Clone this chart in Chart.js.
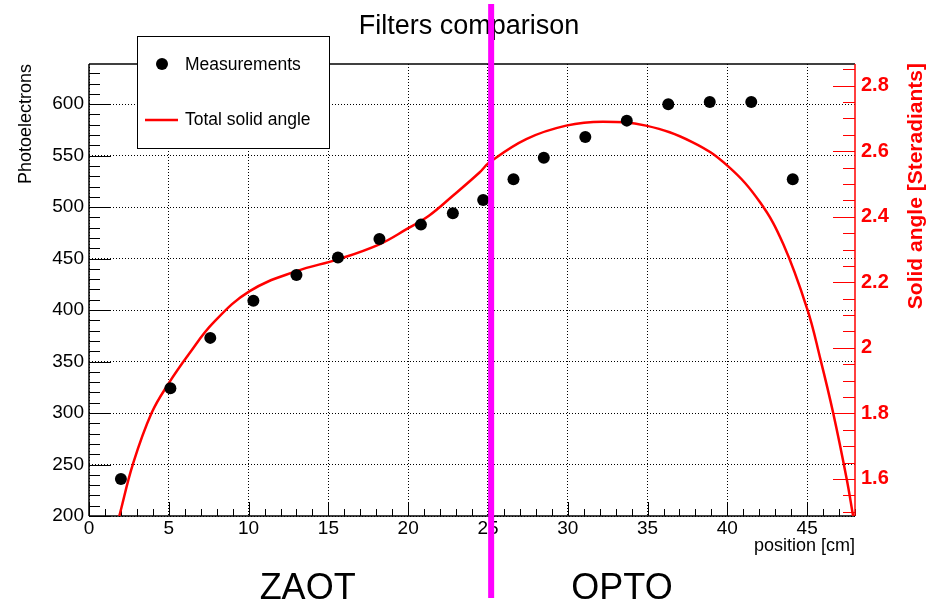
<!DOCTYPE html>
<html><head><meta charset="utf-8">
<script src="https://cdn.jsdelivr.net/npm/chart.js@4/dist/chart.umd.min.js"></script>
<style>html,body{margin:0;padding:0;background:#fff;}canvas{display:block;}</style>
</head><body>
<canvas id="c" width="938" height="604"></canvas>
<script>
// ---- data ----
const positions = [2.0, 5.1, 7.6, 10.3, 13.0, 15.6, 18.2, 20.8, 22.8, 24.7, 26.6, 28.5, 31.1, 33.7, 36.3, 38.9, 41.5, 44.1];
const photoelectrons = [236, 324, 373, 409, 434, 451, 469, 483, 494, 507, 527, 548, 568, 584, 600, 602, 602, 527];
const curvePositions = [1.9, 2.77, 3.92, 4.97, 6.32, 7.78, 10.07, 13.0, 15.6, 18.2, 19.9, 21.3, 22.8, 24.47, 25.1, 27.4, 29.9, 32.2, 34.9, 37.8, 40.02, 42.05, 43.51, 45.01, 45.81, 46.64, 47.48, 47.88];
const solidAngle = [1.487, 1.648, 1.801, 1.890, 1.985, 2.076, 2.173, 2.234, 2.270, 2.316, 2.362, 2.403, 2.464, 2.535, 2.566, 2.637, 2.678, 2.690, 2.678, 2.628, 2.555, 2.444, 2.316, 2.118, 1.970, 1.800, 1.600, 1.487];
const xTickValues = [0, 5, 10, 15, 20, 25, 30, 35, 40, 45];
const yTickValues = [200, 250, 300, 350, 400, 450, 500, 550, 600];
const y2TickValues = [1.6, 1.8, 2, 2.2, 2.4, 2.6, 2.8];
const zoneLabels = ['ZAOT', 'OPTO'];
const zonePositions = [13.7, 33.4];
const dividerPosition = 25.2;

const FONT = "'Liberation Sans', Arial, Helvetica, sans-serif";
const RED = '#ff0000';

function line(ctx, x1, y1, x2, y2) { ctx.beginPath(); ctx.moveTo(x1, y1); ctx.lineTo(x2, y2); ctx.stroke(); }

const framePlugin = {
  id: 'frame',
  beforeDatasetsDraw(chart) {
    const {ctx, chartArea: {left, right, top, bottom}, scales: {x, y, y2}} = chart;
    ctx.save();
    ctx.strokeStyle = '#000';
    ctx.lineWidth = 1;
    for (let v = 200; v <= 630; v += 10) {
      const py = Math.round(y.getPixelForValue(v)) + 0.5;
      line(ctx, left, py, left + (v % 50 === 0 ? 22 : 11), py);
    }
    for (let v = 0; v <= 48; v += 1) {
      const px = Math.round(x.getPixelForValue(v)) + 0.5;
      line(ctx, px, bottom, px, bottom - (v % 5 === 0 ? 14 : 7));
    }
    ctx.lineWidth = 1.5;
    line(ctx, left, top, right, top);
    line(ctx, left, top, left, bottom);
    line(ctx, left, bottom, right, bottom);
    ctx.strokeStyle = RED;
    ctx.lineWidth = 1;
    for (let k = 30; k <= 57; k++) {
      const v = k * 0.05;
      const py = Math.round(y2.getPixelForValue(v)) + 0.5;
      if (py < top || py > bottom) continue;
      line(ctx, right, py, right - (k % 4 === 0 ? 22 : 12), py);
    }
    ctx.lineWidth = 1.5;
    line(ctx, right, top, right, bottom);
    ctx.restore();
  },
  afterDraw(chart) {
    const {ctx, scales: {x}} = chart;
    ctx.save();
    const lx = 137, ly = 36, lw = 192, lh = 112;
    ctx.fillStyle = '#fff';
    ctx.fillRect(lx, ly, lw, lh);
    ctx.strokeStyle = '#000';
    ctx.lineWidth = 1;
    ctx.strokeRect(lx + 0.5, ly + 0.5, lw, lh);
    ctx.fillStyle = '#000';
    ctx.beginPath(); ctx.arc(162, 64, 6, 0, Math.PI * 2); ctx.fill();
    ctx.strokeStyle = RED; ctx.lineWidth = 2.5;
    line(ctx, 145, 120, 178, 120);
    ctx.fillStyle = '#000';
    ctx.font = '17.5px ' + FONT;
    ctx.textAlign = 'left'; ctx.textBaseline = 'middle';
    ctx.fillText(chart.data.datasets[0].label, 185, 65);
    ctx.fillText(chart.data.datasets[1].label, 185, 120);
    ctx.save();
    ctx.translate(916, 63);
    ctx.rotate(-Math.PI / 2);
    ctx.fillStyle = RED;
    ctx.font = 'bold 21px ' + FONT;
    ctx.textAlign = 'right'; ctx.textBaseline = 'middle';
    ctx.fillText('Solid angle [Steradiants]', 0, 0);
    ctx.restore();
    ctx.fillStyle = '#000';
    ctx.font = '36px ' + FONT;
    ctx.textAlign = 'center'; ctx.textBaseline = 'alphabetic';
    zoneLabels.forEach((t, i) => ctx.fillText(t, x.getPixelForValue(zonePositions[i]), 599));
    ctx.fillStyle = '#ff00ff';
    const dx = x.getPixelForValue(dividerPosition);
    ctx.fillRect(dx - 3, 4, 6, 594);
    ctx.restore();
  }
};

const fixedTicks = vals => scale => { scale.ticks = vals.map(v => ({value: v})); };

new Chart(document.getElementById('c').getContext('2d'), {
  type: 'scatter',
  data: {
    datasets: [
      {
        label: 'Measurements',
        data: positions.map((p, i) => ({x: p, y: photoelectrons[i]})),
        yAxisID: 'y',
        pointRadius: 6, pointHoverRadius: 6,
        pointBackgroundColor: '#000', pointBorderColor: '#000', pointBorderWidth: 0,
        showLine: false
      },
      {
        type: 'line',
        label: 'Total solid angle',
        data: curvePositions.map((p, i) => ({x: p, y: solidAngle[i]})),
        yAxisID: 'y2',
        borderColor: RED, borderWidth: 2.5,
        pointRadius: 0, fill: false,
        tension: 0.4
      }
    ]
  },
  options: {
    responsive: false,
    animation: false,
    devicePixelRatio: 1,
    layout: {padding: 0},
    plugins: {
      legend: {display: false},
      tooltip: {enabled: false},
      title: {
        display: true, text: 'Filters comparison', color: '#000',
        font: {family: FONT, size: 27, weight: 'normal'},
        padding: {top: 10.8, bottom: 20.8}
      }
    },
    scales: {
      x: {
        type: 'linear', position: 'bottom', min: 0, max: 48,
        afterBuildTicks: fixedTicks(xTickValues),
        afterFit: s => { s.height = 88; },
        grid: {color: '#000', lineWidth: 1, drawTicks: false},
        border: {display: false, dash: [1, 2]},
        ticks: {color: '#000', font: {family: FONT, size: 19}, padding: 1, maxRotation: 0, autoSkip: false},
        title: {display: true, text: 'position [cm]', align: 'end', color: '#000',
          font: {family: FONT, size: 18}, padding: {top: 0, bottom: 46.7}}
      },
      y: {
        type: 'linear', position: 'left', min: 200, max: 639,
        afterBuildTicks: fixedTicks(yTickValues),
        afterFit: s => { s.width = 89; },
        grid: {color: '#000', lineWidth: 1, drawTicks: false},
        border: {display: false, dash: [1, 2]},
        ticks: {color: '#000', font: {family: FONT, size: 19}, padding: 5, autoSkip: false},
        title: {display: true, text: 'Photoelectrons', align: 'end', color: '#000',
          font: {family: FONT, size: 18}, padding: {top: 15, bottom: 0}}
      },
      y2: {
        type: 'linear', position: 'right', min: 1.487, max: 2.866,
        afterBuildTicks: fixedTicks(y2TickValues),
        afterFit: s => { s.width = 83; },
        grid: {display: false, drawTicks: false},
        border: {display: false},
        ticks: {color: RED, font: {family: FONT, size: 20, weight: 'bold'}, padding: 6, autoSkip: false,
          callback: v => String(v)}
      }
    }
  },
  plugins: [framePlugin]
});
</script>
</body></html>
